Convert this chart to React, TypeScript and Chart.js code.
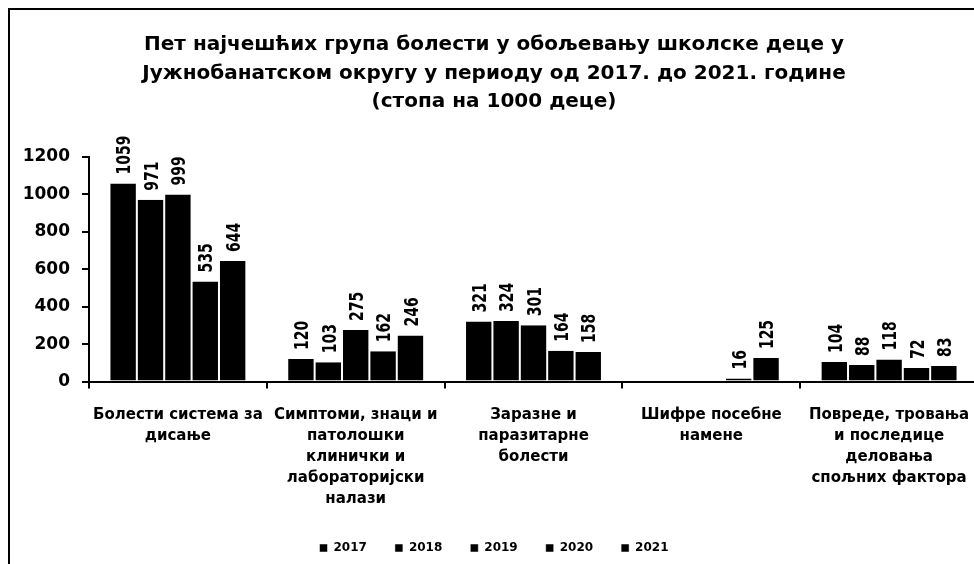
import React, { useEffect, useRef } from "react";
import { Chart, registerables } from "chart.js";

Chart.register(...registerables);

const titleLines = [
  "Пет најчешћих група болести у обољевању школске деце у",
  "Јужнобанатском округу у периоду од 2017. до 2021. године",
  "(стопа на 1000 деце)",
];

const categories: string[][] = [
  ["Болести система за", "дисање"],
  ["Симптоми, знаци и", "патолошки", "клинички и", "лабораторијски", "налази"],
  ["Заразне и", "паразитарне", "болести"],
  ["Шифре посебне", "намене"],
  ["Повреде, тровања", "и последице", "деловања", "спољних фактора"],
];

const years = ["2017", "2018", "2019", "2020", "2021"];

const values2017: (number | null)[] = [1059, 120, 321, null, 104];
const values2018: (number | null)[] = [971, 103, 324, null, 88];
const values2019: (number | null)[] = [999, 275, 301, null, 118];
const values2020: (number | null)[] = [535, 162, 164, 16, 72];
const values2021: (number | null)[] = [644, 246, 158, 125, 83];

const yTicks = [0, 200, 400, 600, 800, 1000, 1200];

const WIDE = '"DejaVu Sans", "Open Sans", sans-serif';

const valueLabels = {
  id: "valueLabels",
  afterDatasetsDraw(chart: any) {
    const ctx = chart.ctx;
    ctx.save();
    ctx.font = `bold 20px ${WIDE}`;
    ctx.fillStyle = "#000";
    chart.data.datasets.forEach((ds: any, i: number) => {
      const meta = chart.getDatasetMeta(i);
      meta.data.forEach((bar: any, j: number) => {
        const v = ds.data[j];
        if (v == null) return;
        ctx.save();
        ctx.translate(bar.x + 2, bar.y - 9);
        ctx.rotate(-Math.PI / 2);
        ctx.scale(0.7, 1);
        ctx.textAlign = "left";
        ctx.textBaseline = "middle";
        ctx.fillText(String(v), 0, 0);
        ctx.restore();
      });
    });
    ctx.restore();
  },
};

export default function App() {
  const canvasRef = useRef<HTMLCanvasElement | null>(null);

  useEffect(() => {
    if (!canvasRef.current) return;
    const series = [values2017, values2018, values2019, values2020, values2021];
    const chart = new Chart(canvasRef.current, {
      type: "bar",
      data: {
        labels: categories,
        datasets: years.map((y, i) => ({
          label: y,
          data: series[i],
          backgroundColor: "#000",
          borderColor: "#fff",
          borderWidth: { left: 1, right: 1, top: 0, bottom: 0 },
          borderSkipped: "start",
          categoryPercentage: 0.77,
          barPercentage: 1.0,
        })),
      },
      options: {
        animation: false,
        responsive: true,
        maintainAspectRatio: false,
        layout: { padding: { left: 0, right: 12, top: 0, bottom: 0 } },
        plugins: {
          title: {
            display: true,
            text: titleLines,
            color: "#000",
            font: { family: WIDE, size: 20, weight: "bold", lineHeight: 1.425 },
            padding: { top: 21, bottom: 40.5 },
          },
          legend: {
            display: true,
            position: "bottom",
            labels: {
              color: "#000",
              boxWidth: 8,
              boxHeight: 8,
              padding: 28,
              font: { family: WIDE, size: 12, weight: "bold" },
            },
          },
          tooltip: { enabled: false },
        },
        scales: {
          x: {
            offset: true,
            afterFit(scale: any) {
              scale.height = 132.5;
            },
            grid: {
              display: true,
              drawOnChartArea: false,
              drawTicks: true,
              tickLength: 7,
              color: "#000",
              lineWidth: 2,
              offset: true,
            },
            border: { display: true, color: "#000", width: 2 },
            ticks: {
              color: "#000",
              maxRotation: 0,
              minRotation: 0,
              autoSkip: false,
              padding: 16.5,
              font: { family: WIDE, size: 15, weight: "bold", lineHeight: 1.4 },
            },
          },
          y: {
            min: 0,
            max: 1200,
            afterFit(scale: any) {
              scale.width = 79;
            },
            afterBuildTicks(scale: any) {
              scale.ticks = yTicks.map((v) => ({ value: v }));
            },
            grid: {
              display: true,
              drawOnChartArea: false,
              drawTicks: true,
              tickLength: 7,
              color: "#000",
              lineWidth: 2,
            },
            border: { display: true, color: "#000", width: 2 },
            ticks: {
              color: "#000",
              padding: 12,
              callback: (v: any) => String(v),
              font: { family: WIDE, size: 17, weight: "bold" },
            },
          },
        },
      },
      plugins: [valueLabels],
    } as any);
    return () => chart.destroy();
  }, []);

  return (
    <div
      style={{
        position: "fixed",
        left: 8,
        top: 8,
        width: 966,
        height: 556,
        borderLeft: "2px solid #000",
        borderTop: "2px solid #000",
        overflow: "hidden",
        background: "#fff",
      }}
    >
      <div style={{ position: "relative", width: 980, height: 554 }}>
        <canvas ref={canvasRef} />
      </div>
    </div>
  );
}
